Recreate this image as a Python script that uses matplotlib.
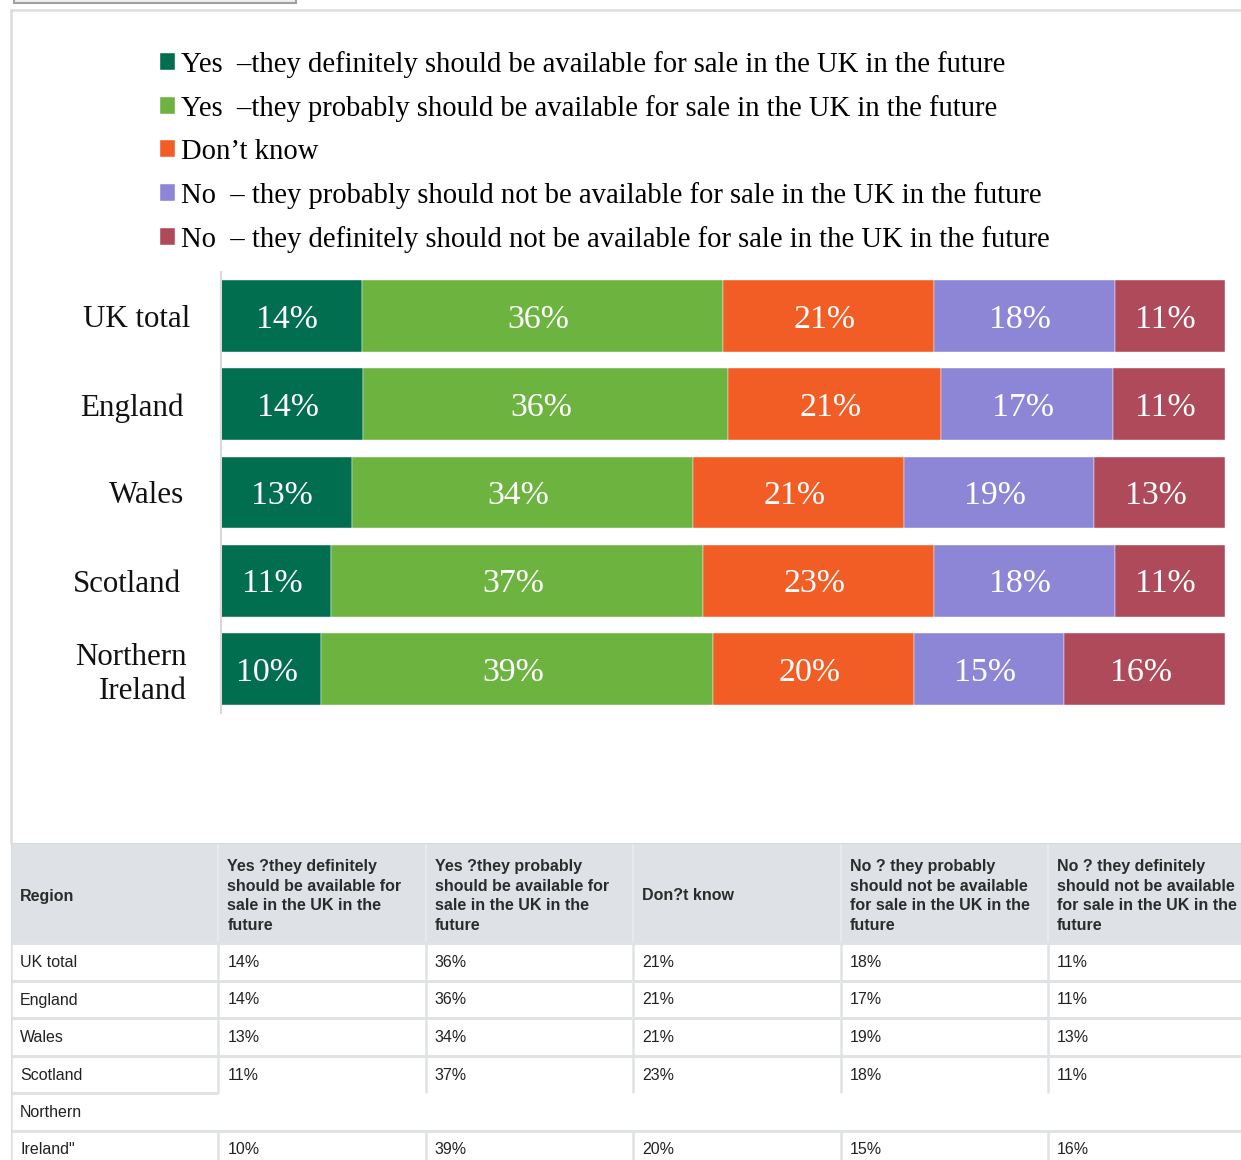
import matplotlib
matplotlib.use("Agg")
import matplotlib.pyplot as plt
from matplotlib.patches import Rectangle
from matplotlib.lines import Line2D
from matplotlib.transforms import ScaledTranslation
import numpy as np

# survey results by region (percent)
regions = ["UK total", "England", "Wales", "Scotland", "Northern\nIreland"]
definitely_yes = [14, 14, 13, 11, 10]
probably_yes = [36, 36, 34, 37, 39]
dont_know = [21, 21, 21, 23, 20]
probably_no = [18, 17, 19, 18, 15]
definitely_no = [11, 11, 13, 11, 16]

series_names = [
    "Yes  \u2013they definitely should be available for sale in the UK in the future",
    "Yes  \u2013they probably should be available for sale in the UK in the future",
    "Don\u2019t know",
    "No  \u2013 they probably should not be available for sale in the UK in the future",
    "No  \u2013 they definitely should not be available for sale in the UK in the future",
]
colors = ["#006e4f", "#6db33f", "#f15d24", "#8d85d6", "#af4a5a"]

# data table underneath (as on the page, with broken characters)
table_headers = [
    "Region",
    "Yes ?they definitely\nshould be available for\nsale in the UK in the\nfuture",
    "Yes ?they probably\nshould be available for\nsale in the UK in the\nfuture",
    "Don?t know",
    "No ? they probably\nshould not be available\nfor sale in the UK in the\nfuture",
    "No ? they definitely\nshould not be available\nfor sale in the UK in the\nfuture",
]
table_regions = ["UK total", "England", "Wales", "Scotland", "Northern", "Ireland\""]

W, H = 1241, 1160


def fx(px):
    return px / W


def fy(py):
    return 1 - py / H


fig = plt.figure(figsize=(W / 100, H / 100), dpi=100)
serif = "Liberation Serif"
sans = "Liberation Sans"

# page frame and the button stub at the top
fig.add_artist(Rectangle((fx(14), fy(3)), fx(296) - fx(14), 0.01, transform=fig.transFigure,
                         facecolor="#efefef", edgecolor="#a0a0a0", lw=1.5))
fig.add_artist(Line2D([fx(11), fx(11)], [fy(10), fy(843)], transform=fig.transFigure,
                      color="#dddddd", lw=1.8))
fig.add_artist(Line2D([fx(11), 1], [fy(10), fy(10)], transform=fig.transFigure,
                      color="#dddddd", lw=1.8))

# stacked bar chart
values = np.array([definitely_yes, probably_yes, dont_know, probably_no, definitely_no], dtype=float)
shares = values / values.sum(axis=0) * 100
ypos = np.arange(len(regions))

ax = fig.add_axes([fx(221), fy(713), fx(1225) - fx(221), (713 - 272) / H])
left = np.zeros(len(regions))
handles = []
for i in range(len(series_names)):
    bars = ax.barh(ypos, shares[i], left=left, height=0.816, color=colors[i],
                   edgecolor="white", linewidth=0.3)
    anns = ax.bar_label(bars, labels=[f"{int(v)}%" for v in values[i]], label_type="center",
                        color="white", fontsize=24.4, family=serif)
    for a in anns:
        a.set_va("center_baseline")
        a.xyann = (-3, 0)
    handles.append(bars)
    left += shares[i]

ax.set_xlim(0, 100)
ax.set_ylim(len(regions) - 0.5, -0.5)
ax.set_yticks(ypos)
ax.set_yticklabels(regions, fontsize=22.3, family=serif, color="#111111")
ax.set_xticks([])
ax.tick_params(axis="y", length=0, pad=25)
for lbl, dx in zip(ax.get_yticklabels(), [4, -3, -2, -5, 0]):
    lbl.set_transform(lbl.get_transform() + ScaledTranslation(dx / 100, 0, fig.dpi_scale_trans))
for s in ["top", "right", "bottom"]:
    ax.spines[s].set_visible(False)
ax.spines["left"].set_color("#d9d9d9")
ax.spines["left"].set_linewidth(1.5)

fig.legend(handles, series_names, loc="upper left", bbox_to_anchor=(fx(160), fy(51)),
           frameon=False, borderpad=0, borderaxespad=0,
           prop={"family": serif, "size": 20.6}, handlelength=0.53, handleheight=0.53,
           handletextpad=0.2, labelspacing=0.595)

# table
col_w = 207.4
row_h = 37.5
tax = fig.add_axes([fx(11), 0, fx(1241) - fx(11), (1160 - 843) / H])
tax.set_xlim(0, (1241 - 11) / col_w)
head_top = -(943 - 843) / row_h
tax.set_ylim((1160 - 943) / row_h, head_top)
tax.axis("off")

tax.axhspan(head_top, 0, color="#dee2e6", lw=0)
line_c = "#dfe3e6"
tax.vlines(np.arange(1, 6), head_top, 0, color="#e9ecee", lw=1.2)
tax.hlines(head_top, 0, 6, color="#d5d8da", lw=1.5)
tax.hlines([0, 1, 2, 3, 5], 0, 6, color=line_c, lw=2.2)
tax.hlines(4, 0, 1, color=line_c, lw=2.2)
tax.vlines(np.arange(1, 6), 0, 4, color=line_c, lw=1.8)
tax.vlines(np.arange(1, 6), 5, 6, color=line_c, lw=1.8)
tax.vlines(0, head_top, 6, color="#dddddd", lw=1.8)

pad = 9 / col_w
for c, h in enumerate(table_headers):
    tax.text(c + pad, head_top / 2 + 0.08, h, ha="left", va="center", family=sans,
             fontsize=11.5, fontweight="bold", color="#2b2b2b", linespacing=1.38)

table_values = [definitely_yes, probably_yes, dont_know, probably_no, definitely_no]
data_rows = [0, 1, 2, 3, 5]
for r, name in enumerate(table_regions):
    tax.text(pad, r + 0.52, name, ha="left", va="center", family=sans, fontsize=11.5,
             color="#222222")
for k, r in enumerate(data_rows):
    for c, col in enumerate(table_values):
        tax.text(c + 1 + pad, r + 0.52, f"{col[k]}%", ha="left", va="center",
                 family=sans, fontsize=11.5, color="#222222")

fig.savefig("out.png", dpi=100)
